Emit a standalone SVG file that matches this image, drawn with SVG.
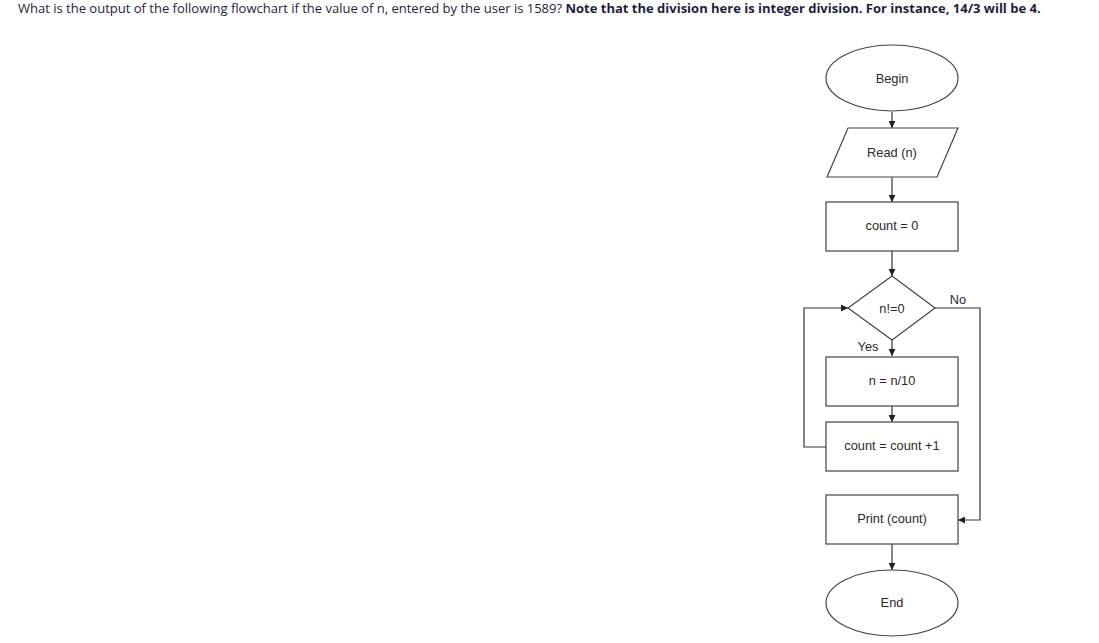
<svg xmlns="http://www.w3.org/2000/svg" width="1099" height="643" viewBox="0 0 1099 643">
<defs>
<marker id="ah" viewBox="0 0 10 10" refX="10" refY="5" markerWidth="7" markerHeight="7" orient="auto" markerUnits="userSpaceOnUse">
<path d="M0,0 L10,5 L0,10 z" fill="#222"/>
</marker>
<style>
.shape{fill:#fff;stroke:#444;stroke-width:1.2}
.lbl{font-family:"Liberation Sans",Arial,sans-serif;font-size:12.8px;fill:#2a2a2a;text-anchor:middle;dominant-baseline:central}
.conn{fill:none;stroke:#333;stroke-width:1.2}
.title{font-family:"Open Sans",sans-serif;font-size:13px;fill:#1e1e3c}
</style>
</defs>
<rect width="1099" height="643" fill="#fff"/>
<text class="title" x="18" y="13">What is the output of the following flowchart if the value of n, entered by the user is 1589? <tspan font-weight="bold">Note that the division here is integer division. For instance, 14/3 will be 4.</tspan></text>
<g id="connectors">
<path class="conn" d="M892,112 V128" marker-end="url(#ah)"/>
<path class="conn" d="M892,177 V202" marker-end="url(#ah)"/>
<path class="conn" d="M892,251 V276" marker-end="url(#ah)"/>
<path class="conn" d="M892,340 V356" marker-end="url(#ah)"/>
<path class="conn" d="M892,406 V422" marker-end="url(#ah)"/>
<path class="conn" d="M826,447 H804 V308 H848" marker-end="url(#ah)"/>
<path class="conn" d="M935,308 H980 V520 H958" marker-end="url(#ah)"/>
<path class="conn" d="M892,544 V570" marker-end="url(#ah)"/>
<text class="lbl" x="958" y="299">No</text>
<text class="lbl" x="868" y="346">Yes</text>
</g>
<g id="begin"><ellipse class="shape" cx="892" cy="78" rx="66" ry="33"/><text class="lbl" x="892" y="78">Begin</text></g>
<g id="read"><polygon class="shape" points="848,128 958,128 937,177 827,177"/><text class="lbl" x="892" y="152">Read (n)</text></g>
<g id="init"><rect class="shape" x="826" y="202" width="132" height="49"/><text class="lbl" x="892" y="225">count = 0</text></g>
<g id="cond"><polygon class="shape" points="892,276 935,308 892,340 848,308"/><text class="lbl" x="892" y="308">n!=0</text></g>
<g id="div"><rect class="shape" x="826" y="357" width="132" height="49"/><text class="lbl" x="892" y="380">n = n/10</text></g>
<g id="inc"><rect class="shape" x="826" y="422" width="132" height="49"/><text class="lbl" x="892" y="445">count = count +1</text></g>
<g id="print"><rect class="shape" x="826" y="495" width="132" height="49"/><text class="lbl" x="892" y="518">Print (count)</text></g>
<g id="end"><ellipse class="shape" cx="892" cy="603" rx="66" ry="33"/><text class="lbl" x="892" y="602">End</text></g>
</svg>
